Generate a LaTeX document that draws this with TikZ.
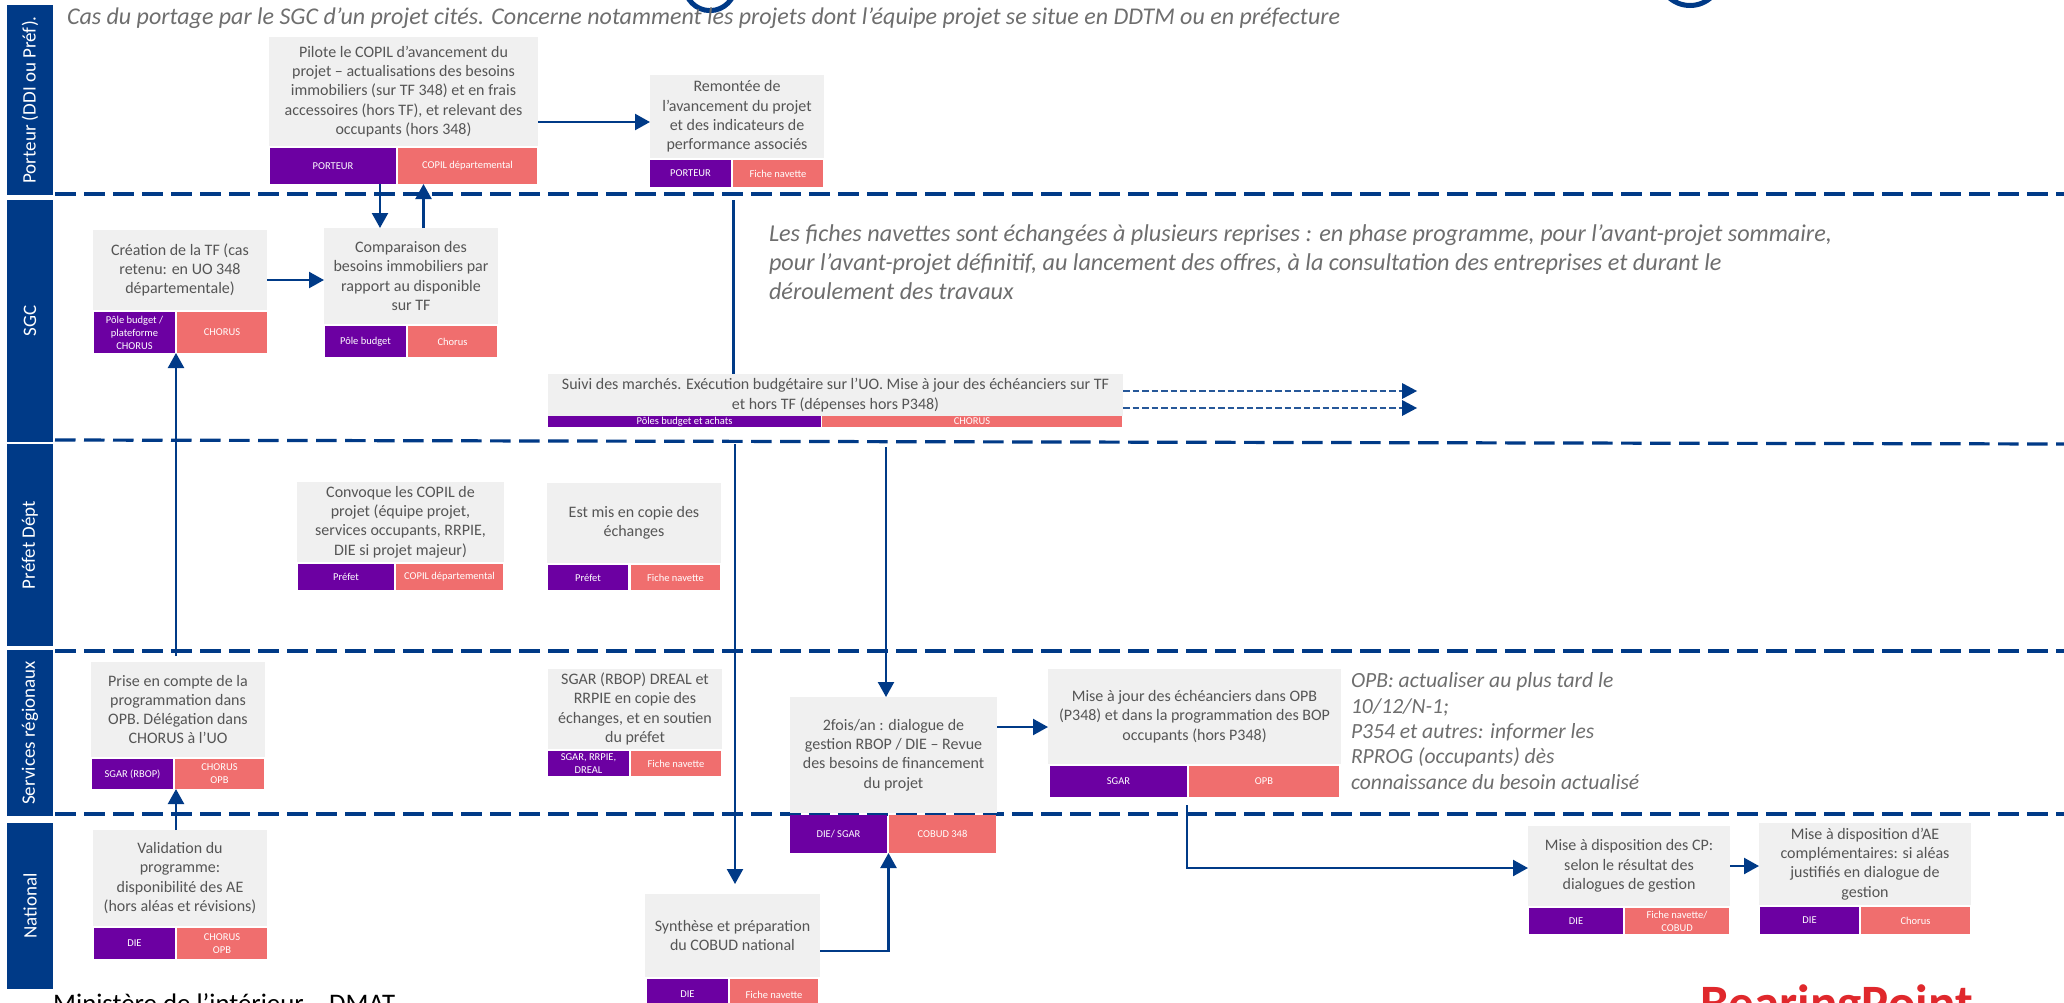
\documentclass[tikz,border=0pt]{standalone}
\usepackage{fontspec}
\setmainfont{Carlito}
\usetikzlibrary{arrows.meta}
\definecolor{navy}{HTML}{003A87}
\definecolor{grayb}{HTML}{F0F0F0}
\definecolor{purp}{HTML}{6C00A2}
\definecolor{salm}{HTML}{F06E6E}
\definecolor{txt}{HTML}{555555}
\definecolor{notec}{HTML}{6E6E6E}
\definecolor{bpred}{HTML}{E0282C}
\tikzset{
  shapebase/.style={rectangle,inner sep=0pt,outer sep=0pt,align=center},
  graybox/.style={shapebase,fill=grayb,text=txt,font=\fontsize{16}{19.3}\selectfont},
  whobox/.style={shapebase,fill=purp,text=white,font=\fontsize{10.5}{13}\selectfont},
  toolbox/.style={shapebase,fill=salm,text=white,font=\fontsize{10.5}{13}\selectfont},
  lanebox/.style={shapebase,fill=navy},
  lanetext/.style={rotate=90,text=white,font=\fontsize{19}{22}\selectfont,inner sep=0pt},
  flow/.style={draw=navy,line width=2.3pt,-{Triangle[length=15pt,width=16pt]}},
  plainflow/.style={draw=navy,line width=2.3pt},
  dotflow/.style={draw=navy!85,line width=2pt,dash pattern=on 6.5pt off 3pt,-{Triangle[length=15pt,width=16pt,line width=0pt,fill=navy]}},
  lanesep/.style={draw=navy,line width=3.2pt,dash pattern=on 20.5pt off 8.5pt},
  note/.style={inner sep=0pt,outer sep=0pt,anchor=west,align=left,text=notec,font=\fontsize{21.6}{25.4}\selectfont\itshape}
}
% \bx{style}{name}{x1}{y1}{x2}{y2}{text}
\newcommand{\bx}[7]{%
  \pgfmathsetmacro{\bxw}{#5-#3}\pgfmathsetmacro{\bxh}{#6-#4}%
  \pgfmathsetmacro{\bxcx}{(#3+#5)/2}\pgfmathsetmacro{\bxcy}{(#4+#6)/2}%
  \node[#1,minimum width=\bxw pt,minimum height=\bxh pt] (#2) at (\bxcx,\bxcy) {#7};}
\begin{document}
\begin{tikzpicture}[x=1pt,y=-1pt]
\useasboundingbox (0,0) rectangle (2064,1002);
\clip (0,0) rectangle (2064,1002);
\fill[white] (0,0) rectangle (2064,1002);
% lanes
\bx{lanebox}{l1}{7}{5}{53}{195}{}
\bx{lanebox}{l2}{7}{200}{53}{442}{}
\bx{lanebox}{l3}{7}{444}{53}{646}{}
\bx{lanebox}{l4}{7}{650}{53}{816}{}
\bx{lanebox}{l5}{7}{823}{53}{989}{}
\node[lanetext] (t1) at (l1) {Porteur (DDI ou Préf).};
\node[lanetext] (t2) at (l2) {SGC};
\node[lanetext] (t3) at (l3) {Préfet Dépt};
\node[lanetext] (t4) at (l4) {Services régionaux};
\node[lanetext] (t5) at (l5) {National};
% separators
\coordinate (s1a) at (55,194); \coordinate (s1b) at (2064,194);
\coordinate (s2a) at (55,440); \coordinate (s2b) at (2064,444);
\coordinate (s3a) at (55,651); \coordinate (s3b) at (2064,651);
\coordinate (s4a) at (55,814); \coordinate (s4b) at (2064,814);
\draw[lanesep] (s1a) -- (s1b);
\draw[lanesep] (s2a) -- (s2b);
\draw[lanesep] (s3a) -- (s3b);
\draw[lanesep] (s4a) -- (s4b);
% top rings
\coordinate (r1) at (710,-14.7); \coordinate (r2) at (1690,-26);
\draw[navy,line width=5pt] (r1) circle (25.3);
\draw[navy,line width=5pt] (r2) circle (31.5);
% boxes
\bx{graybox}{pil}{269}{37}{538}{146}{Pilote le COPIL d’avancement du\\projet – actualisations des besoins\\immobiliers (sur TF 348) et en frais\\accessoires (hors TF), et relevant des\\occupants (hors 348)}
\bx{whobox}{pilw}{270}{148}{396}{184}{PORTEUR}
\bx{toolbox}{pilt}{398}{148}{537}{184}{COPIL départemental}
\bx{graybox}{rem}{650}{75}{824}{158}{Remontée de\\l’avancement du projet\\et des indicateurs de\\performance associés}
\bx{whobox}{remw}{650}{160}{731}{187}{PORTEUR}
\bx{toolbox}{remt}{733}{160}{823}{187}{Fiche navette}
\bx{graybox}{cre}{93}{230}{267}{310}{Création de la TF (cas\\retenu: en UO 348\\départementale)}
\bx{whobox}{crew}{94}{312}{175}{353}{Pôle budget /\\plateforme\\CHORUS}
\bx{toolbox}{cret}{177}{312}{267}{353}{CHORUS}
\bx{graybox}{com}{324}{228}{498}{324}{Comparaison des\\besoins immobiliers par\\rapport au disponible\\sur TF}
\bx{whobox}{comw}{325}{326}{406}{357}{Pôle budget}
\bx{toolbox}{comt}{408}{326}{497}{357}{Chorus}
\bx{graybox}{sui}{548}{374}{1123}{416}{Suivi des marchés. Exécution budgétaire sur l’UO. Mise à jour des échéanciers sur TF\\et hors TF (dépenses hors P348)}
\bx{whobox}{suiw}{548}{416}{821}{427}{Pôles budget et achats}
\bx{toolbox}{suit}{822}{416}{1122}{427}{CHORUS}
\bx{graybox}{con}{297}{482}{504}{562}{Convoque les COPIL de\\projet (équipe projet,\\services occupants, RRPIE,\\DIE si projet majeur)}
\bx{whobox}{conw}{298}{564}{394}{590}{Préfet}
\bx{toolbox}{cont}{396}{564}{503}{590}{COPIL départemental}
\bx{graybox}{est}{547}{483}{721}{563}{Est mis en copie des\\échanges}
\bx{whobox}{estw}{548}{565}{628}{590}{Préfet}
\bx{toolbox}{estt}{631}{565}{720}{590}{Fiche navette}
\bx{graybox}{pri}{91}{662}{265}{757}{Prise en compte de la\\programmation dans\\OPB. Délégation dans\\CHORUS à l’UO}
\bx{whobox}{priw}{92}{759}{173}{789}{SGAR (RBOP)}
\bx{toolbox}{prit}{175}{759}{264}{789}{CHORUS\\OPB}
\bx{graybox}{sga}{548}{669}{722}{749}{SGAR (RBOP) DREAL et\\RRPIE en copie des\\échanges, et en soutien\\du préfet}
\bx{whobox}{sgaw}{548}{751}{629}{776}{SGAR, RRPIE,\\DREAL}
\bx{toolbox}{sgat}{631}{751}{721}{776}{Fiche navette}
\bx{graybox}{dia}{790}{697}{997}{813}{2fois/an : dialogue de\\gestion RBOP / DIE – Revue\\des besoins de financement\\du projet}
\bx{whobox}{diaw}{790}{815}{887}{853}{DIE/ SGAR}
\bx{toolbox}{diat}{889}{815}{996}{853}{COBUD 348}
\bx{graybox}{val}{93}{830}{267}{926}{Validation du\\programme:\\disponibilité des AE\\(hors aléas et révisions)}
\bx{whobox}{valw}{94}{928}{175}{959}{DIE}
\bx{toolbox}{valt}{177}{928}{267}{959}{CHORUS\\OPB}
\bx{graybox}{syn}{645}{894}{820}{977}{Synthèse et préparation\\du COBUD national}
\bx{whobox}{synw}{647}{979}{728}{1010}{DIE}
\bx{toolbox}{synt}{730}{979}{818}{1010}{Fiche navette}
\bx{graybox}{maj}{1048}{669}{1341}{764}{Mise à jour des échéanciers dans OPB\\(P348) et dans la programmation des BOP\\occupants (hors P348)}
\bx{whobox}{majw}{1050}{766}{1187}{797}{SGAR}
\bx{toolbox}{majt}{1189}{766}{1339}{797}{OPB}
\bx{graybox}{cpd}{1528}{826}{1730}{906}{Mise à disposition des CP:\\selon le résultat des\\dialogues de gestion}
\bx{whobox}{cpdw}{1529}{908}{1623}{934}{DIE}
\bx{toolbox}{cpdt}{1625}{908}{1729}{934}{Fiche navette/\\COBUD}
\bx{graybox}{aed}{1759}{823}{1971}{905}{Mise à disposition d’AE\\complémentaires: si aléas\\justifiés en dialogue de\\gestion}
\bx{whobox}{aedw}{1760}{907}{1859}{934}{DIE}
\bx{toolbox}{aedt}{1861}{907}{1970}{934}{Chorus}
% notes
\node[note,font=\fontsize{24}{28}\selectfont\itshape] (n1) at (67,18) {Cas du portage par le SGC d’un projet cités. Concerne notamment les projets dont l’équipe projet se situe en DDTM ou en préfecture};
\node[note,font=\fontsize{24.2}{29}\selectfont\itshape] (n2) at (769,262) {Les fiches navettes sont échangées à plusieurs reprises : en phase programme, pour l’avant-projet sommaire,\\pour l’avant-projet définitif, au lancement des offres, à la consultation des entreprises et durant le\\déroulement des travaux};
\node[note] (n3) at (1351,731) {OPB: actualiser au plus tard le\\10/12/N-1;\\P354 et autres: informer les\\RPROG (occupants) dès\\connaissance du besoin actualisé};
\node[inner sep=0pt,anchor=base west,text=black,font=\fontsize{26.8}{30}\selectfont] (n4) at (53,1012) {Ministère de l’intérieur – DMAT};
\node[inner sep=0pt,anchor=base west,text=bpred,font=\fontsize{51}{55}\selectfont\bfseries] (n5) at (1700,1020) {BearingPoint};
% connectors
\draw[flow] (pil.east |- 0,122) -- (rem.west |- 0,122);
\draw[flow] (pilw.south -| 380,0) -- (com.north -| 380,0);
\draw[flow] (com.north -| 423.5,0) -- (pilt.south -| 423.5,0);
\draw[flow] (cre.east |- 0,280) -- (com.west |- 0,280);
\coordinate (prtop) at (176,656);
\draw[flow] (prtop) -- (crew.south -| prtop);
\draw[flow] (val.north -| prtop) -- (prit.south west -| prtop);
\coordinate (remdrop) at (733.5,200);
\draw[plainflow] (remdrop) -- (sui.north -| remdrop);
\coordinate (sya) at (735,444); \coordinate (syb) at (735,884);
\draw[flow] (sya) -- (syb);
\coordinate (dia0) at (886,447);
\draw[flow] (dia0) -- (dia.north -| dia0);
\draw[flow] (syn.east |- 0,951) -| (diaw.south east -| 888.5,0);
\draw[flow] (dia.east |- 0,727) -- (maj.west |- 0,727);
\coordinate (cpa) at (1187,805);
\draw[flow] (cpa) |- (cpd.west |- 0,868);
\draw[flow] (cpd.east |- 0,866) -- (aed.west |- 0,866);
\coordinate (d1) at (1417,391); \coordinate (d2) at (1417,408);
\draw[dotflow] (sui.east |- d1) -- (d1);
\draw[dotflow] (sui.east |- d2) -- (d2);
\end{tikzpicture}
\end{document}
